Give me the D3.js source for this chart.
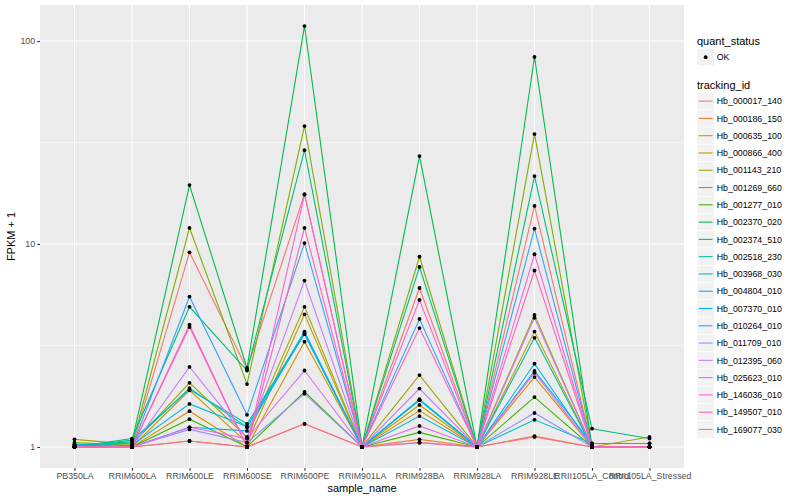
<!DOCTYPE html>
<html>
<head>
<meta charset="utf-8">
<script src="https://cdn.jsdelivr.net/npm/d3@7"></script>
<style>
  body { margin: 0; background: #fff; }
  text { font-family: "Liberation Sans", Arial, Helvetica, sans-serif; }
</style>
</head>
<body>
<svg id="chart" width="800" height="500"></svg>
<script>
// samples on the x axis
const samples = [
  "PB350LA", "RRIM600LA", "RRIM600LE", "RRIM600SE", "RRIM600PE", "RRIM901LA",
  "RRIM928BA", "RRIM928LA", "RRIM928LE", "RRII105LA_Control", "RRII105LA_Stressed",
];

const trackingIds = [
  "Hb_000017_140", "Hb_000186_150", "Hb_000635_100", "Hb_000866_400",
  "Hb_001143_210", "Hb_001269_660", "Hb_001277_010", "Hb_002370_020",
  "Hb_002374_510", "Hb_002518_230", "Hb_003968_030", "Hb_004804_010",
  "Hb_007370_010", "Hb_010264_010", "Hb_011709_010", "Hb_012395_060",
  "Hb_025623_010", "Hb_146036_010", "Hb_149507_010", "Hb_169077_030",
];

// FPKM + 1 per tracking_id, in sample order
const fpkm = [
  [1.0, 1.0, 9.1, 2.42, 17.6, 1.0, 6.07, 1.0, 15.4, 1.0, 1.0],
  [1.0, 1.0, 1.07, 1.0, 1.3, 1.0, 1.09, 1.0, 1.13, 1.0, 1.0],
  [1.0, 1.0, 1.5, 1.0, 3.3, 1.0, 1.51, 1.0, 2.21, 1.0, 1.0],
  [1.02, 1.0, 1.9, 1.05, 4.5, 1.0, 1.61, 1.0, 3.7, 1.0, 1.0],
  [1.09, 1.03, 2.07, 1.12, 4.9, 1.0, 2.26, 1.0, 4.47, 1.0, 1.12],
  [1.05, 1.02, 12.0, 2.04, 38.1, 1.0, 8.65, 1.0, 34.8, 1.0, 1.0],
  [1.0, 1.0, 1.37, 1.0, 1.87, 1.0, 1.18, 1.0, 1.76, 1.0, 1.0],
  [1.02, 1.06, 19.5, 2.45, 118.5, 1.0, 27.1, 1.0, 83.4, 1.0, 1.0],
  [1.0, 1.1, 4.9, 2.38, 29.0, 1.0, 7.7, 1.0, 21.6, 1.23, 1.1],
  [1.0, 1.08, 1.92, 1.3, 3.6, 1.0, 1.7, 1.0, 3.45, 1.0, 1.0],
  [1.0, 1.05, 1.95, 1.25, 3.7, 1.0, 1.72, 1.0, 1.36, 1.04, 1.04],
  [1.0, 1.02, 1.63, 1.26, 3.6, 1.0, 1.42, 1.0, 2.57, 1.0, 1.0],
  [1.03, 1.0, 1.25, 1.2, 3.65, 1.0, 1.7, 1.0, 2.37, 1.04, 1.04],
  [1.0, 1.0, 5.5, 1.44, 10.1, 1.0, 4.27, 1.0, 11.9, 1.0, 1.0],
  [1.0, 1.0, 1.22, 1.05, 1.83, 1.0, 1.05, 1.0, 1.47, 1.0, 1.0],
  [1.0, 1.0, 2.48, 1.1, 6.6, 1.0, 1.94, 1.0, 4.33, 1.0, 1.0],
  [1.0, 1.0, 1.25, 1.1, 2.38, 1.0, 1.27, 1.0, 2.32, 1.0, 1.0],
  [1.0, 1.0, 4.0, 1.0, 17.5, 1.0, 5.3, 1.0, 8.9, 1.0, 1.0],
  [1.0, 1.0, 3.9, 1.0, 12.0, 1.0, 3.85, 1.0, 7.4, 1.0, 1.0],
  [1.0, 1.0, 1.07, 1.0, 1.3, 1.0, 1.05, 1.0, 1.12, 1.0, 1.0],
];

// ggplot hue palette, 20 levels
const colors = [
  "#F8766D", "#EA8331", "#D89000", "#C09B00", "#A3A500", "#7CAE00", "#39B600",
  "#00BB4E", "#00BF7D", "#00C1A3", "#00BFC4", "#00BAE0", "#00B0F6", "#35A2FF",
  "#9590FF", "#C77CFF", "#E76BF3", "#FA62DB", "#FF62BC", "#FF6C91",
];

const yTicks = [1, 10, 100];

const panel = { left: 40, right: 684, top: 5, bottom: 468 };
const svg = d3.select("#chart");

// x: discrete, ggplot expands 0.6 of a step on each side
const x = d3.scalePoint().domain(samples).range([panel.left, panel.right]).padding(0.6);

// y: log10 with 5% expansion of the data range
const allVals = fpkm.flat();
const lo = Math.log10(d3.min(allVals));
const hi = Math.log10(d3.max(allVals));
const pad = (hi - lo) * 0.05;
const y = d3.scaleLog()
  .domain([Math.pow(10, lo - pad), Math.pow(10, hi + pad)])
  .range([panel.bottom, panel.top]);

// panel background
svg.append("rect")
  .attr("x", panel.left).attr("y", panel.top)
  .attr("width", panel.right - panel.left)
  .attr("height", panel.bottom - panel.top)
  .attr("fill", "#EBEBEB");

// minor grid (half decades)
const minor = [Math.sqrt(10), Math.sqrt(1000)];
svg.append("g").selectAll("line").data(minor).join("line")
  .attr("x1", panel.left).attr("x2", panel.right)
  .attr("y1", (d) => y(d)).attr("y2", (d) => y(d))
  .attr("stroke", "#fff").attr("stroke-width", 0.55);

// major grid
svg.append("g").selectAll("line").data(yTicks).join("line")
  .attr("x1", panel.left).attr("x2", panel.right)
  .attr("y1", (d) => y(d)).attr("y2", (d) => y(d))
  .attr("stroke", "#fff").attr("stroke-width", 1.1);

svg.append("g").selectAll("line").data(samples).join("line")
  .attr("x1", (d) => x(d)).attr("x2", (d) => x(d))
  .attr("y1", panel.top).attr("y2", panel.bottom)
  .attr("stroke", "#fff").attr("stroke-width", 1.1);

// lines per tracking_id
const line = d3.line()
  .x((d, i) => x(samples[i]))
  .y((d) => y(d));

svg.append("g").selectAll("path").data(fpkm).join("path")
  .attr("d", line)
  .attr("fill", "none")
  .attr("stroke", (d, i) => colors[i])
  .attr("stroke-width", 1.1);

// points (quant_status = OK)
const pts = [];
fpkm.forEach((row) => row.forEach((v, i) => pts.push({ s: samples[i], v })));
svg.append("g").selectAll("circle").data(pts).join("circle")
  .attr("cx", (d) => x(d.s))
  .attr("cy", (d) => y(d.v))
  .attr("r", 1.9)
  .attr("fill", "#000");

// axes
const yAxis = svg.append("g").attr("transform", `translate(${panel.left},0)`)
  .call(d3.axisLeft(y).tickValues(yTicks).tickFormat(d3.format("d")).tickSize(2.7).tickPadding(2.2));
const xAxis = svg.append("g").attr("transform", `translate(0,${panel.bottom})`)
  .call(d3.axisBottom(x).tickSize(2.7).tickPadding(2.2));

[xAxis, yAxis].forEach((g) => {
  g.select(".domain").remove();
  g.selectAll(".tick line").attr("stroke", "#333333").attr("stroke-width", 1.1);
  g.selectAll(".tick text")
    .attr("fill", "#4D4D4D")
    .style("font-size", "8.8px")
    .style("font-family", "'Liberation Sans', Arial, sans-serif");
});

// axis titles
svg.append("text")
  .attr("x", (panel.left + panel.right) / 2).attr("y", 492)
  .attr("text-anchor", "middle")
  .style("font-size", "11px")
  .text("sample_name");

svg.append("text")
  .attr("transform", `translate(15,${(panel.top + panel.bottom) / 2}) rotate(-90)`)
  .attr("text-anchor", "middle")
  .style("font-size", "11px")
  .text("FPKM + 1");

// legends
const lx = 697;
const keySize = 17.28;

svg.append("text").attr("x", lx).attr("y", 44.5)
  .style("font-size", "11px").text("quant_status");

svg.append("rect").attr("x", lx).attr("y", 48.5)
  .attr("width", keySize).attr("height", keySize)
  .attr("fill", "#F2F2F2").attr("stroke", "#fff").attr("stroke-width", 0.5);
svg.append("circle").attr("cx", lx + keySize / 2).attr("cy", 48.5 + keySize / 2)
  .attr("r", 1.9).attr("fill", "#000");
svg.append("text").attr("x", lx + keySize + 2.5).attr("y", 48.5 + keySize / 2 + 3.2)
  .style("font-size", "8.8px").text("OK");

svg.append("text").attr("x", lx).attr("y", 89)
  .style("font-size", "11px").text("tracking_id");

const keyTop = 92.5;
const keys = svg.append("g").selectAll("g").data(trackingIds).join("g")
  .attr("transform", (d, i) => `translate(${lx},${keyTop + i * keySize})`);

keys.append("rect")
  .attr("width", keySize).attr("height", keySize)
  .attr("fill", "#F2F2F2").attr("stroke", "#fff").attr("stroke-width", 0.5);
keys.append("line")
  .attr("x1", 1.7).attr("x2", keySize - 1.7)
  .attr("y1", keySize / 2).attr("y2", keySize / 2)
  .attr("stroke", (d, i) => colors[i]).attr("stroke-width", 1.1);
keys.append("text")
  .attr("x", keySize + 2.5).attr("y", keySize / 2 + 3.2)
  .style("font-size", "8.8px")
  .text((d) => d);
</script>
</body>
</html>
